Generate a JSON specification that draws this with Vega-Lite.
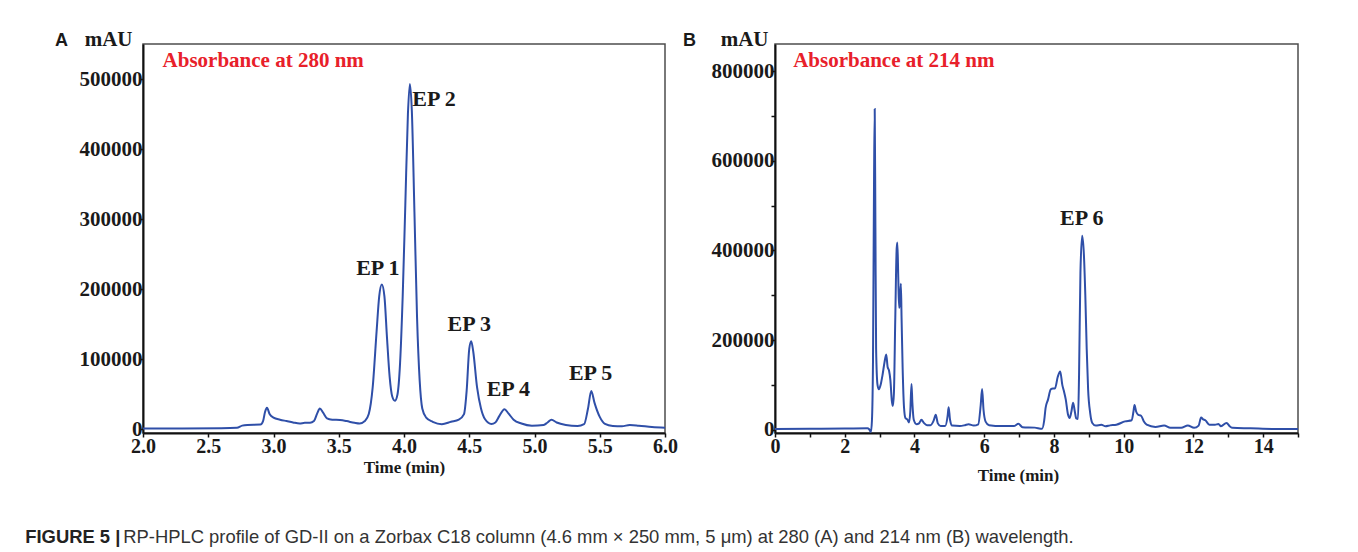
{
  "$schema": "https://vega.github.io/schema/vega-lite/v6.json",
  "background": "white",
  "padding": {"left": 25, "top": 27, "right": 0, "bottom": 0},
  "config": {
    "view": {"stroke": "#4d4d4d", "strokeWidth": 1.5},
    "axis": {
      "grid": false, "domainColor": "#111", "domainWidth": 2, "tickColor": "#111", "tickSize": 4, "tickWidth": 1.5,
      "labelFont": "Liberation Serif", "labelFontWeight": "bold", "labelFontSize": 20, "labelColor": "#1a1a1a",
      "titleFont": "Liberation Serif", "titleFontWeight": "bold", "titleFontSize": 17, "titleColor": "#1a1a1a",
      "labelOverlap": false, "labelFlush": false
    },
    "title": {"font": "Liberation Sans", "fontWeight": "bold", "fontSize": 18, "color": "#1a1a1a"}
  },
  "datasets": {
    "chromA": [
      {"t": 2.0, "v": 1500}, {"t": 2.3, "v": 1500}, {"t": 2.6, "v": 1800}, {"t": 2.72, "v": 2500}, {"t": 2.76, "v": 5500},
      {"t": 2.8, "v": 6500}, {"t": 2.9, "v": 7000}, {"t": 2.92, "v": 12000}, {"t": 2.935, "v": 25000}, {"t": 2.95, "v": 31000},
      {"t": 2.97, "v": 22000}, {"t": 3.0, "v": 17000}, {"t": 3.05, "v": 14000}, {"t": 3.1, "v": 12000}, {"t": 3.15, "v": 10000},
      {"t": 3.2, "v": 8500}, {"t": 3.24, "v": 9500}, {"t": 3.28, "v": 9500}, {"t": 3.31, "v": 12000}, {"t": 3.335, "v": 23000},
      {"t": 3.355, "v": 30000}, {"t": 3.38, "v": 24000}, {"t": 3.41, "v": 16000}, {"t": 3.45, "v": 14000}, {"t": 3.51, "v": 13500},
      {"t": 3.56, "v": 12000}, {"t": 3.62, "v": 9500}, {"t": 3.66, "v": 8500}, {"t": 3.7, "v": 12000}, {"t": 3.73, "v": 22000},
      {"t": 3.76, "v": 60000}, {"t": 3.79, "v": 140000}, {"t": 3.81, "v": 190000}, {"t": 3.83, "v": 207000}, {"t": 3.85, "v": 190000},
      {"t": 3.87, "v": 130000}, {"t": 3.89, "v": 75000}, {"t": 3.91, "v": 47000}, {"t": 3.93, "v": 41000}, {"t": 3.95, "v": 50000},
      {"t": 3.97, "v": 95000}, {"t": 3.99, "v": 190000}, {"t": 4.01, "v": 320000}, {"t": 4.03, "v": 450000}, {"t": 4.045, "v": 493000},
      {"t": 4.06, "v": 455000}, {"t": 4.08, "v": 310000}, {"t": 4.1, "v": 160000}, {"t": 4.12, "v": 70000}, {"t": 4.14, "v": 30000},
      {"t": 4.17, "v": 17000}, {"t": 4.22, "v": 11000}, {"t": 4.29, "v": 7600}, {"t": 4.36, "v": 11000}, {"t": 4.42, "v": 14000},
      {"t": 4.46, "v": 22000}, {"t": 4.48, "v": 55000}, {"t": 4.5, "v": 115000}, {"t": 4.515, "v": 126000}, {"t": 4.53, "v": 112000},
      {"t": 4.56, "v": 60000}, {"t": 4.59, "v": 30000}, {"t": 4.62, "v": 15000}, {"t": 4.67, "v": 8000}, {"t": 4.7, "v": 10000},
      {"t": 4.73, "v": 19000}, {"t": 4.77, "v": 29000}, {"t": 4.8, "v": 23000}, {"t": 4.84, "v": 14000}, {"t": 4.9, "v": 8500},
      {"t": 4.98, "v": 5500}, {"t": 5.07, "v": 6500}, {"t": 5.1, "v": 10000}, {"t": 5.13, "v": 14000}, {"t": 5.17, "v": 10000},
      {"t": 5.24, "v": 6500}, {"t": 5.33, "v": 5000}, {"t": 5.38, "v": 7500}, {"t": 5.41, "v": 30000}, {"t": 5.435, "v": 55000},
      {"t": 5.46, "v": 38000}, {"t": 5.5, "v": 18000}, {"t": 5.54, "v": 8000}, {"t": 5.6, "v": 5000}, {"t": 5.67, "v": 4500},
      {"t": 5.73, "v": 6500}, {"t": 5.8, "v": 5500}, {"t": 5.9, "v": 3500}, {"t": 6.0, "v": 2500}
    ],
    "chromB": [
      {"t": 0, "v": 1500}, {"t": 1, "v": 2000}, {"t": 2, "v": 2500}, {"t": 2.65, "v": 3000}, {"t": 2.7, "v": 1000},
      {"t": 2.75, "v": -5000}, {"t": 2.78, "v": 20000}, {"t": 2.81, "v": 150000}, {"t": 2.84, "v": 550000}, {"t": 2.86, "v": 716000},
      {"t": 2.88, "v": 450000}, {"t": 2.9, "v": 180000}, {"t": 2.94, "v": 100000}, {"t": 2.98, "v": 90000}, {"t": 3.03, "v": 100000},
      {"t": 3.08, "v": 120000}, {"t": 3.14, "v": 150000}, {"t": 3.19, "v": 168000}, {"t": 3.23, "v": 140000}, {"t": 3.27, "v": 132000},
      {"t": 3.31, "v": 110000}, {"t": 3.35, "v": 65000}, {"t": 3.38, "v": 53000}, {"t": 3.41, "v": 80000}, {"t": 3.45, "v": 250000},
      {"t": 3.49, "v": 405000}, {"t": 3.51, "v": 418000}, {"t": 3.535, "v": 340000}, {"t": 3.56, "v": 272000}, {"t": 3.58, "v": 280000},
      {"t": 3.61, "v": 326000}, {"t": 3.63, "v": 250000}, {"t": 3.66, "v": 140000}, {"t": 3.7, "v": 50000}, {"t": 3.74, "v": 26000},
      {"t": 3.8, "v": 22000}, {"t": 3.84, "v": 16000}, {"t": 3.88, "v": 40000}, {"t": 3.915, "v": 102000}, {"t": 3.94, "v": 60000},
      {"t": 3.98, "v": 22000}, {"t": 4.06, "v": 12000}, {"t": 4.13, "v": 14000}, {"t": 4.2, "v": 22000}, {"t": 4.27, "v": 15000},
      {"t": 4.36, "v": 10000}, {"t": 4.46, "v": 10000}, {"t": 4.55, "v": 20000}, {"t": 4.61, "v": 33000}, {"t": 4.67, "v": 14000},
      {"t": 4.75, "v": 8000}, {"t": 4.88, "v": 8000}, {"t": 4.95, "v": 30000}, {"t": 4.98, "v": 50000}, {"t": 5.02, "v": 22000},
      {"t": 5.08, "v": 9000}, {"t": 5.3, "v": 8000}, {"t": 5.45, "v": 10000}, {"t": 5.55, "v": 12000}, {"t": 5.7, "v": 9000},
      {"t": 5.83, "v": 12000}, {"t": 5.9, "v": 55000}, {"t": 5.94, "v": 91000}, {"t": 5.98, "v": 45000}, {"t": 6.04, "v": 18000},
      {"t": 6.14, "v": 10000}, {"t": 6.5, "v": 8000}, {"t": 6.85, "v": 8000}, {"t": 6.98, "v": 13000}, {"t": 7.1, "v": 5500},
      {"t": 7.45, "v": 4500}, {"t": 7.66, "v": 2000}, {"t": 7.72, "v": 20000}, {"t": 7.76, "v": 48000}, {"t": 7.83, "v": 67000},
      {"t": 7.91, "v": 90000}, {"t": 7.97, "v": 92000}, {"t": 8.03, "v": 92000}, {"t": 8.11, "v": 118000}, {"t": 8.18, "v": 130000},
      {"t": 8.24, "v": 100000}, {"t": 8.28, "v": 88000}, {"t": 8.34, "v": 67000}, {"t": 8.4, "v": 35000}, {"t": 8.45, "v": 26000},
      {"t": 8.5, "v": 40000}, {"t": 8.55, "v": 60000}, {"t": 8.6, "v": 40000}, {"t": 8.64, "v": 25000}, {"t": 8.69, "v": 24000},
      {"t": 8.72, "v": 120000}, {"t": 8.76, "v": 350000}, {"t": 8.81, "v": 433000}, {"t": 8.86, "v": 390000}, {"t": 8.9, "v": 300000},
      {"t": 8.94, "v": 180000}, {"t": 8.98, "v": 90000}, {"t": 9.04, "v": 37000}, {"t": 9.1, "v": 15000}, {"t": 9.2, "v": 9000},
      {"t": 9.36, "v": 11000}, {"t": 9.48, "v": 7500}, {"t": 9.61, "v": 9500}, {"t": 9.79, "v": 11000}, {"t": 10.04, "v": 18500},
      {"t": 10.23, "v": 21000}, {"t": 10.28, "v": 40000}, {"t": 10.31, "v": 55000}, {"t": 10.36, "v": 40000}, {"t": 10.42, "v": 33000},
      {"t": 10.5, "v": 31000}, {"t": 10.58, "v": 18000}, {"t": 10.66, "v": 11000}, {"t": 10.91, "v": 6000}, {"t": 11.16, "v": 9000},
      {"t": 11.34, "v": 4000}, {"t": 11.65, "v": 4000}, {"t": 11.84, "v": 9500}, {"t": 12.02, "v": 4000}, {"t": 12.15, "v": 9000},
      {"t": 12.22, "v": 27000}, {"t": 12.28, "v": 23000}, {"t": 12.34, "v": 21000}, {"t": 12.46, "v": 11000}, {"t": 12.62, "v": 11000},
      {"t": 12.72, "v": 12500}, {"t": 12.79, "v": 7500}, {"t": 12.95, "v": 15000}, {"t": 13.05, "v": 7000}, {"t": 13.12, "v": 4000},
      {"t": 13.64, "v": 3000}, {"t": 14.26, "v": 1500}, {"t": 15.0, "v": 1500}
    ],
    "labelsA": [
      {"t": 3.8, "v": 231000, "label": "EP 1"}, {"t": 4.23, "v": 472000, "label": "EP 2"}, {"t": 4.5, "v": 150000, "label": "EP 3"},
      {"t": 4.8, "v": 58000, "label": "EP 4"}, {"t": 5.43, "v": 80000, "label": "EP 5"}
    ],
    "labelsB": [{"t": 8.8, "v": 473000, "label": "EP 6"}],
    "noteA": [{"t": 2.15, "v": 526000, "label": "Absorbance at 280 nm"}],
    "noteB": [{"t": 0.52, "v": 823000, "label": "Absorbance at 214 nm"}]
  },
  "title": {
    "text": "RP-HPLC profile of GD-II on a Zorbax C18 column (4.6 mm × 250 mm, 5 μm) at 280 (A) and 214 nm (B) wavelength.",
    "orient": "bottom", "anchor": "start", "frame": "bounds", "dx": 98, "dy": -18, "offset": 0,
    "font": "Liberation Sans", "fontWeight": "normal", "fontSize": 18.4, "color": "#333"
  },
  "vconcat": [
    {
      "title": {"text": "FIGURE 5 |", "orient": "bottom", "anchor": "start", "frame": "bounds", "dx": -29, "offset": 44,
        "font": "Liberation Sans", "fontWeight": "bold", "fontSize": 18.4, "color": "#222"},
      "spacing": 3,
      "hconcat": [
        {
          "width": 522, "height": 389,
          "title": {"text": "A", "anchor": "start", "frame": "group", "dx": -88, "offset": -22},
          "encoding": {
            "x": {"field": "t", "type": "quantitative", "scale": {"domain": [2, 6], "nice": false, "zero": false},
              "axis": {"title": "Time (min)", "values": [2, 2.5, 3, 3.5, 4, 4.5, 5, 5.5, 6], "format": ".1f", "labelPadding": -1, "titlePadding": 3}},
            "y": {"field": "v", "type": "quantitative", "scale": {"domain": [-5000, 550000], "nice": false, "zero": false},
              "axis": {"title": "mAU", "titleAngle": 0, "titleAlign": "right", "titleBaseline": "alphabetic", "titleX": -11, "titleY": 1, "titleFontSize": 21,
                "values": [0, 100000, 200000, 300000, 400000, 500000], "format": "d", "labelPadding": -3, "labelFontSize": 21}}
          },
          "layer": [
            {"data": {"name": "chromA"}, "mark": {"type": "line", "color": "#2f4fa8", "strokeWidth": 2, "interpolate": "monotone", "clip": true}},
            {"data": {"name": "labelsA"}, "mark": {"type": "text", "font": "Liberation Serif", "fontWeight": "bold", "fontSize": 22, "color": "#1a1a1a"},
              "encoding": {"text": {"field": "label"}}},
            {"data": {"name": "noteA"}, "mark": {"type": "text", "align": "left", "font": "Liberation Serif", "fontWeight": "bold", "fontSize": 21, "color": "#e8202a"},
              "encoding": {"text": {"field": "label"}}}
          ]
        },
        {
          "width": 523, "height": 389,
          "title": {"text": "B", "anchor": "start", "frame": "group", "dx": -92, "offset": -22},
          "encoding": {
            "x": {"field": "t", "type": "quantitative", "scale": {"domain": [0, 15], "nice": false, "zero": false},
              "axis": {"title": "Time (min)", "titleX": 243, "titleAlign": "center", "values": [0, 1, 2, 3, 4, 5, 6, 7, 8, 9, 10, 11, 12, 13, 14, 15],
                "labelExpr": "datum.value % 2 === 0 ? datum.label : ''", "labelPadding": -1, "titlePadding": 11}},
            "y": {"field": "v", "type": "quantitative", "scale": {"domain": [-7500, 861000], "nice": false, "zero": false},
              "axis": {"title": "mAU", "titleAngle": 0, "titleAlign": "right", "titleBaseline": "alphabetic", "titleX": -7, "titleY": 1, "titleFontSize": 21,
                "values": [0, 100000, 200000, 300000, 400000, 500000, 600000, 700000, 800000], "format": "d",
                "labelExpr": "datum.value % 200000 === 0 ? datum.label : ''", "labelPadding": -3, "labelFontSize": 21}}
          },
          "layer": [
            {"data": {"name": "chromB"}, "mark": {"type": "line", "color": "#2f4fa8", "strokeWidth": 2, "interpolate": "monotone", "clip": true}},
            {"data": {"name": "labelsB"}, "mark": {"type": "text", "font": "Liberation Serif", "fontWeight": "bold", "fontSize": 22, "color": "#1a1a1a"},
              "encoding": {"text": {"field": "label"}}},
            {"data": {"name": "noteB"}, "mark": {"type": "text", "align": "left", "font": "Liberation Serif", "fontWeight": "bold", "fontSize": 21, "color": "#e8202a"},
              "encoding": {"text": {"field": "label"}}}
          ]
        }
      ]
    }
  ]
}
